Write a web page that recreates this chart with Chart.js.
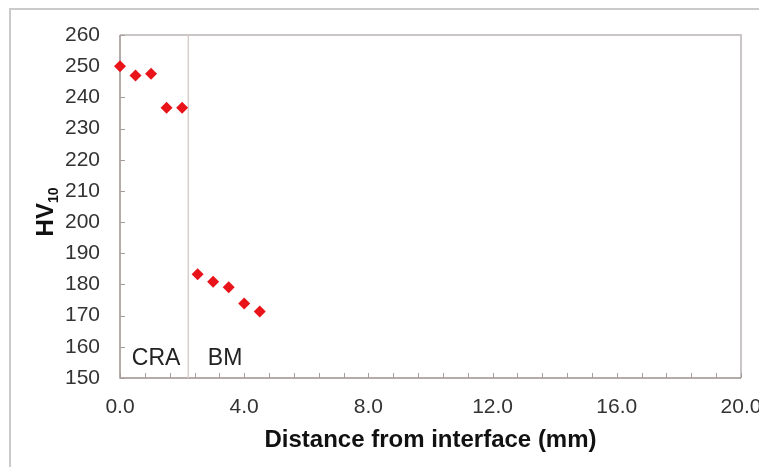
<!DOCTYPE html>
<html>
<head>
<meta charset="UTF-8"/>
<script src="https://cdn.jsdelivr.net/npm/chart.js@4.4.0/dist/chart.umd.min.js"></script>
<style>
  html, body { margin: 0; padding: 0; background: #fff; }
  #wrap { width: 759px; height: 467px; }
</style>
</head>
<body>
<div id="wrap"><canvas id="chart" width="759" height="467"></canvas></div>
<script>
// hardness traverse
const distances = [0.0, 0.5, 1.0, 1.5, 2.0, 2.5, 3.0, 3.5, 4.0, 4.5];
const hardness = [250, 247, 247.6, 236.7, 236.7, 183.3, 180.9, 179.1, 173.9, 171.3];
const interfaceAt = 2.2;
const zoneNames = ['CRA', 'BM'];
const zoneStart = [0.38, 2.83];
const yMin = 150, yMax = 260, yStep = 10;
const xMin = 0, xMax = 20, xStep = 0.8, xLabelEvery = 4;

const FONT = '"Liberation Sans", Arial, sans-serif';

// frame, inward ticks, axes lines, zone labels and the HV10 title
const extras = {
  id: 'extras',
  beforeDraw(chart) {
    const ctx = chart.ctx;
    ctx.save();
    ctx.strokeStyle = '#cacaca';
    ctx.lineWidth = 2;
    ctx.beginPath();
    ctx.moveTo(10, 467);
    ctx.lineTo(10, 9);
    ctx.lineTo(759, 9);
    ctx.stroke();
    ctx.restore();
  },
  beforeDatasetsDraw(chart) {
    const ctx = chart.ctx;
    const a = chart.chartArea;
    const xs = chart.scales.x, ys = chart.scales.y;
    ctx.save();
    // top/right border
    ctx.strokeStyle = '#cbc6c6';
    ctx.lineWidth = 2;
    ctx.beginPath();
    ctx.moveTo(a.left, a.top);
    ctx.lineTo(a.right, a.top);
    ctx.lineTo(a.right, a.bottom);
    ctx.stroke();
    // left/bottom axes
    ctx.strokeStyle = '#9d918e';
    ctx.lineWidth = 1.5;
    ctx.beginPath();
    ctx.moveTo(a.left, a.top);
    ctx.lineTo(a.left, a.bottom);
    ctx.lineTo(a.right, a.bottom);
    ctx.stroke();
    // inward tick marks
    ctx.strokeStyle = '#a79d9a';
    ctx.lineWidth = 1;
    ctx.beginPath();
    ys.ticks.forEach(t => {
      const py = Math.round(ys.getPixelForValue(t.value)) + 0.5;
      ctx.moveTo(a.left, py);
      ctx.lineTo(a.left + 5, py);
    });
    xs.ticks.forEach(t => {
      const px = Math.round(xs.getPixelForValue(t.value)) + 0.5;
      ctx.moveTo(px, a.bottom);
      ctx.lineTo(px, a.bottom - 5);
    });
    ctx.stroke();
    // zone labels
    ctx.fillStyle = '#222';
    ctx.font = '23px ' + FONT;
    ctx.textAlign = 'left';
    ctx.textBaseline = 'alphabetic';
    zoneNames.forEach((n, i) => {
      ctx.fillText(n, xs.getPixelForValue(zoneStart[i]), ys.getPixelForValue(154.2));
    });
    // y title with subscript
    ctx.translate(53, 212);
    ctx.rotate(-Math.PI / 2);
    ctx.fillStyle = '#111';
    ctx.font = 'bold 24px ' + FONT;
    const w1 = ctx.measureText('HV').width;
    ctx.font = 'bold 14px ' + FONT;
    const w2 = ctx.measureText('10').width;
    const x0 = -(w1 + w2) / 2;
    ctx.font = 'bold 24px ' + FONT;
    ctx.fillText('HV', x0, 0);
    ctx.font = 'bold 14px ' + FONT;
    ctx.fillText('10', x0 + w1, 5);
    ctx.restore();
  }
};

new Chart(document.getElementById('chart'), {
  type: 'scatter',
  data: {
    datasets: [
      {
        label: 'HV10',
        data: distances.map((d, i) => ({ x: d, y: hardness[i] })),
        pointStyle: 'rectRot',
        pointRadius: 6,
        pointBackgroundColor: '#e8141a',
        pointBorderColor: '#e8141a',
        pointBorderWidth: 0,
        showLine: false,
        clip: false,
        order: 1
      },
      {
        label: 'interface',
        data: [{ x: interfaceAt, y: yMin }, { x: interfaceAt, y: yMax }],
        showLine: true,
        borderColor: '#d8cdcd',
        borderWidth: 1.5,
        pointRadius: 0,
        order: 2
      }
    ]
  },
  options: {
    responsive: false,
    animation: false,
    events: [],
    layout: {
      autoPadding: false,
      padding: { left: 10, right: 18, top: 35, bottom: 0 }
    },
    plugins: {
      legend: { display: false },
      tooltip: { enabled: false }
    },
    scales: {
      x: {
        type: 'linear',
        min: xMin,
        max: xMax,
        grid: { display: false, drawTicks: false },
        border: { display: false },
        afterFit(scale) {
          scale.height = 89;
          scale.paddingLeft = 0;
          scale.paddingRight = 0;
        },
        afterBuildTicks(scale) {
          const t = [];
          for (let i = 0; i <= Math.round((xMax - xMin) / xStep); i++) t.push({ value: xMin + i * xStep });
          scale.ticks = t;
        },
        ticks: {
          autoSkip: false,
          maxRotation: 0,
          padding: 17,
          color: '#333',
          font: { family: FONT, size: 21 },
          callback(v) {
            const r = v / xLabelEvery;
            return Math.abs(r - Math.round(r)) < 1e-6 ? v.toFixed(1) : '';
          }
        },
        title: {
          display: true,
          text: 'Distance from interface (mm)',
          color: '#111',
          font: { family: FONT, size: 24, weight: 'bold' },
          padding: { top: 0, bottom: 12 }
        }
      },
      y: {
        min: yMin,
        max: yMax,
        grid: { display: false, drawTicks: false },
        border: { display: false },
        afterFit(scale) {
          scale.width = 110;
          scale.paddingTop = 0;
          scale.paddingBottom = 0;
        },
        ticks: {
          stepSize: yStep,
          padding: 20,
          color: '#333',
          font: { family: FONT, size: 21 }
        }
      }
    }
  },
  plugins: [extras]
});
</script>
</body>
</html>
